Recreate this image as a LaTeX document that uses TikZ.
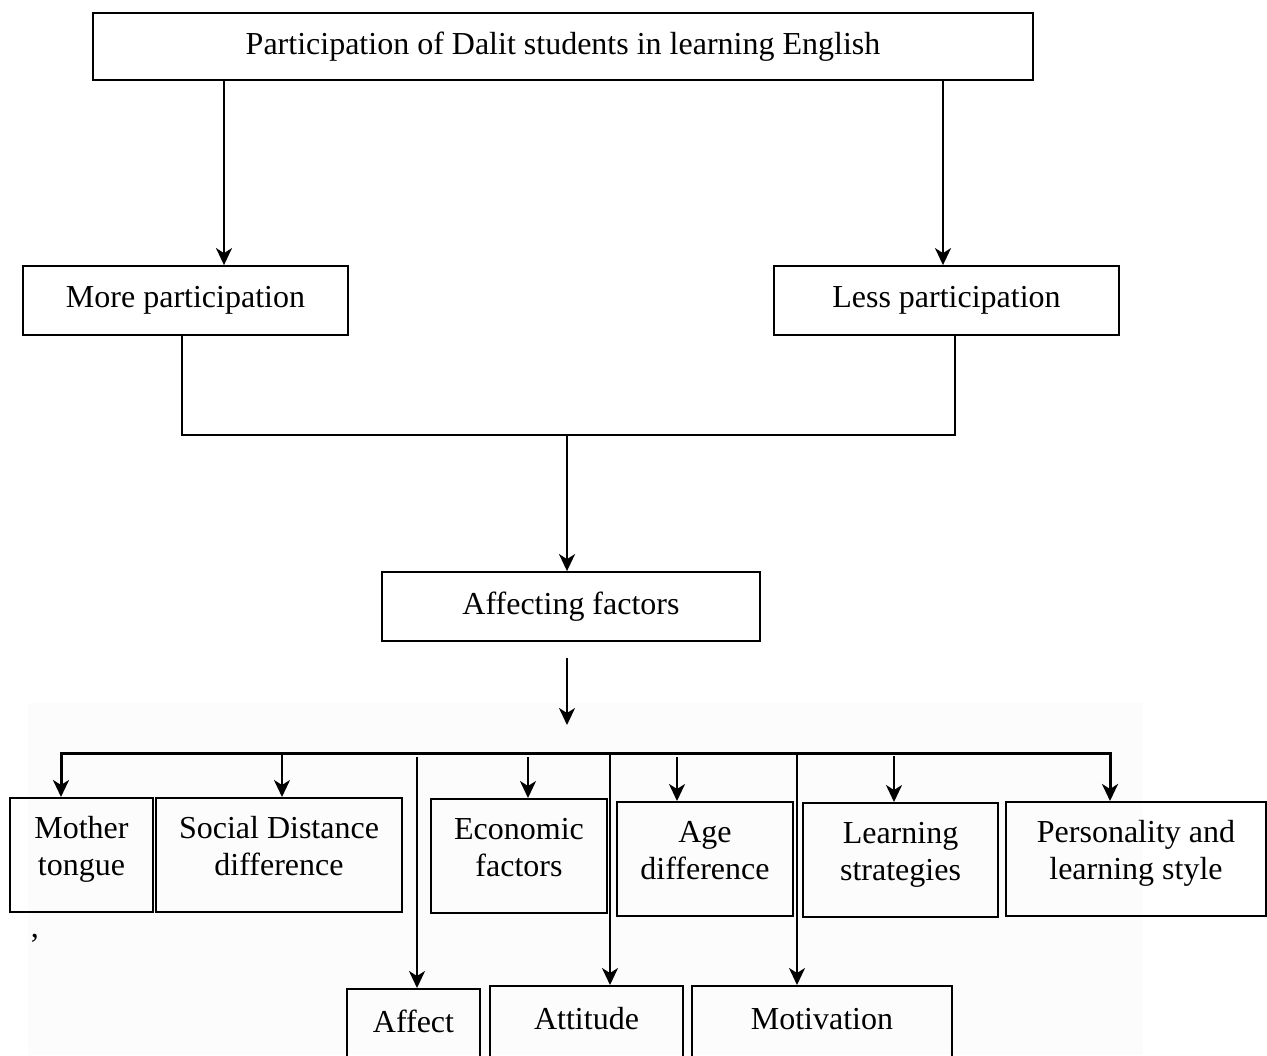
\documentclass[tikz,border=0pt]{standalone}
\usepackage{fontspec}
\setmainfont{Liberation Serif}
\usetikzlibrary{arrows.meta,positioning}

\begin{document}
\begin{tikzpicture}[
      x=0.5pt, y=-0.5pt,
      every node/.style={font=\fontsize{16}{18.5}\selectfont},
      box/.style={draw, rectangle, inner sep=0pt, line width=0.9pt, align=center},
      factor/.style={box, anchor=north, text height=39pt, text depth=18pt},
      single/.style={box, anchor=north, text height=22pt, text depth=40pt},
      link/.style={line width=1.1pt},
      arr/.style={line width=1.1pt, -{Stealth[length=8.5pt, width=8pt, inset=2.5pt]}}
    ]
    \useasboundingbox (0,0) rectangle (1267,1055);
    \clip (0,0) rectangle (1267,1055);
    % faint scan background behind the factor rows
    \fill[black!1] (28,703) rectangle (1143,1055);
    % upper part
    \node[box, minimum width=470pt, minimum height=33.5pt] (top) at (563,46.5) {Participation of Dalit students in learning English};
    \node[box, minimum width=162.5pt, minimum height=34.5pt] (more) at (185.5,300.5) {More participation};
    \node[box, minimum width=172.5pt, minimum height=34.5pt] (less) at (946.5,300.5) {Less participation};
    \node[box, minimum width=189pt, minimum height=34.5pt] (aff) at (571,606.5) {Affecting factors};
    \coordinate (pl) at (224,80);
    \coordinate (pr) at (943,80);
    \coordinate (jl) at (182,435);
    \coordinate (jm) at (567,435);
    \coordinate (jr) at (955,435);
    \draw[arr] (top.south -| pl) -- (more.north -| pl);
    \draw[arr] (top.south -| pr) -- (less.north -| pr);
    \draw[link] (more.south -| jl) -- (jl) -- (jr) -- (less.south -| jr);
    \draw[arr] (jm) -- (aff.north -| jm);
    % factors
    \node[factor, minimum width=71.5pt] (mother) at (81.5,797) {Mother\\tongue};
    \node[factor, minimum width=123pt] (social) at (279,797) {Social Distance\\difference};
    \node[factor, minimum width=88pt] (econ) at (519,798) {Economic\\factors};
    \node[factor, minimum width=88pt] (age) at (705,801) {Age\\difference};
    \node[factor, minimum width=97.5pt] (learn) at (900.5,802) {Learning\\strategies};
    \node[factor, minimum width=130pt] (person) at (1136,801) {Personality and\\learning style};
    \node[single, minimum width=66.5pt] (affect) at (413.5,988) {Affect};
    \node[single, minimum width=96.5pt] (attitude) at (586.5,985) {Attitude};
    \node[single, minimum width=130pt] (motiv) at (822,985) {Motivation};
    \node (comma) at (35,938) {,};
    \coordinate (gap) at (567,658);
    \coordinate (fan) at (567,725);
    \coordinate (bl) at (61,753);
    \coordinate (br) at (1110,753);
    \coordinate (c2) at (282,753);
    \coordinate (c3) at (417,757);
    \coordinate (c4) at (528,757);
    \coordinate (c5) at (610,753);
    \coordinate (c6) at (677,757);
    \coordinate (c7) at (797,753);
    \coordinate (c8) at (894,756);
    \draw[arr] (gap) -- (fan);
    \draw[line width=1.5pt, {Stealth[length=8.5pt, width=8pt, inset=2.5pt]}-{Stealth[length=8.5pt, width=8pt, inset=2.5pt]}]
      (mother.north -| bl) -- (bl) -- (br) -- (person.north -| br);
    \draw[arr] (c2) -- (social.north -| c2);
    \draw[arr] (c3) -- (affect.north -| c3);
    \draw[arr] (c4) -- (econ.north -| c4);
    \draw[arr] (c5) -- (attitude.north -| c5);
    \draw[arr] (c6) -- (age.north -| c6);
    \draw[arr] (c7) -- (motiv.north -| c7);
    \draw[arr] (c8) -- (learn.north -| c8);
\end{tikzpicture}
\end{document}
